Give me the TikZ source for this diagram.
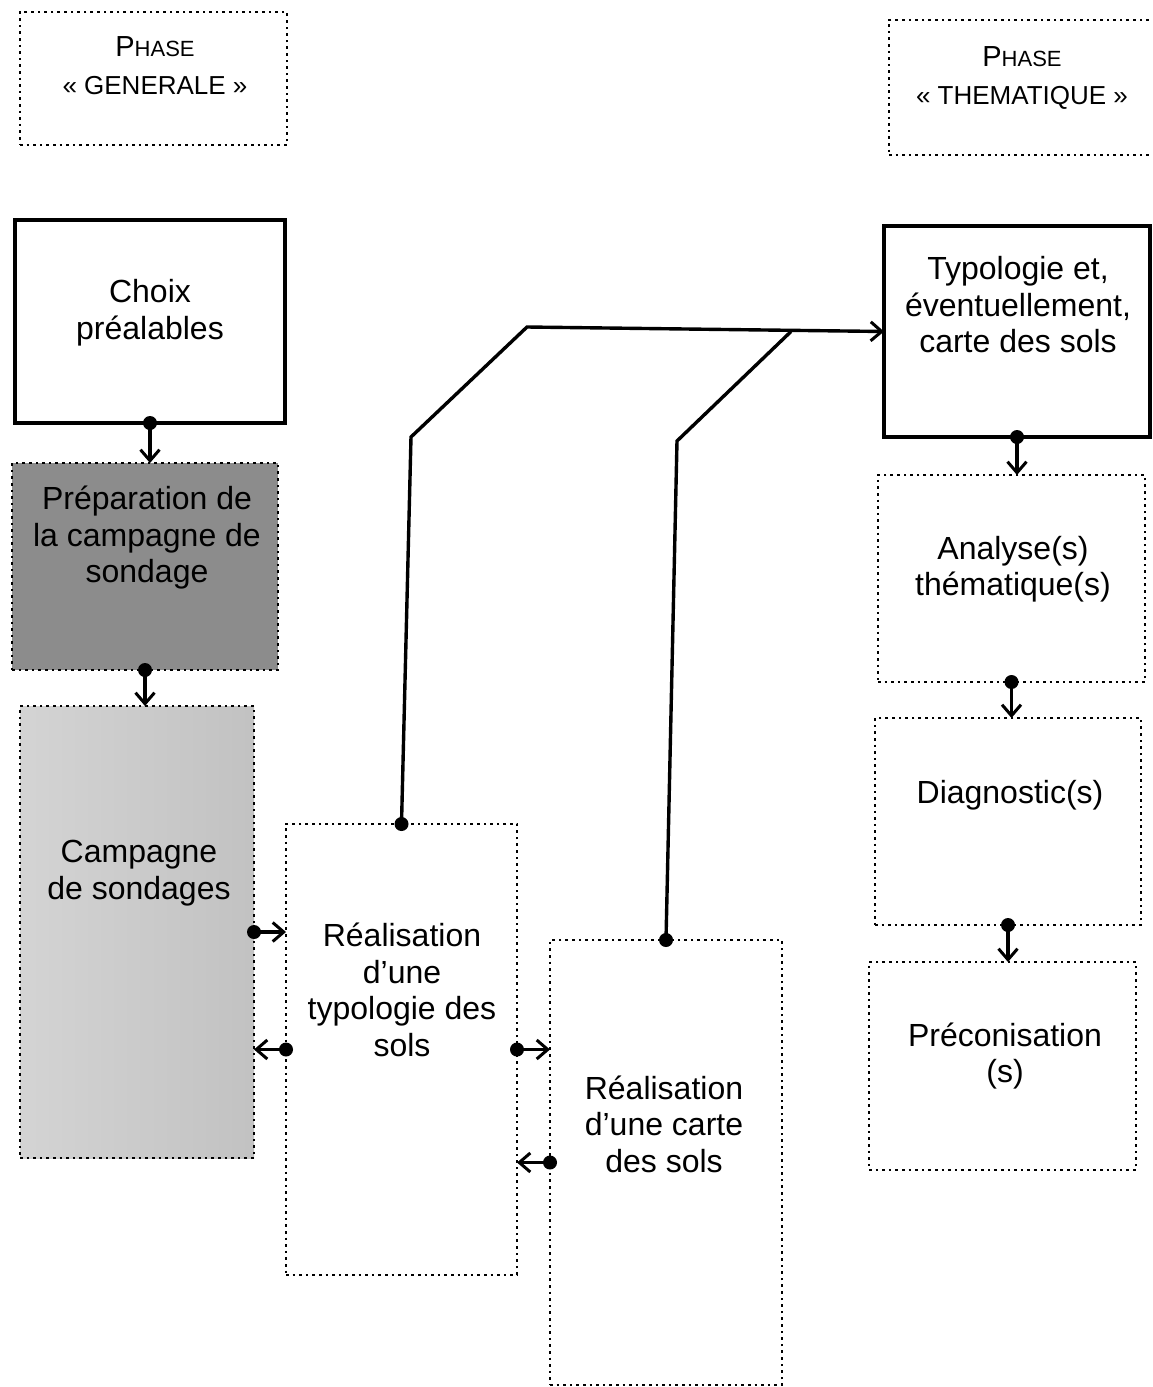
\documentclass[tikz,border=0pt]{standalone}
\usepackage{fontspec}
\setmainfont{Liberation Sans}
\usetikzlibrary{arrows.meta,calc}
\begin{document}
\begin{tikzpicture}[x=1pt,y=-1pt,
  solidbox/.style={draw, line width=3.2pt, rectangle, inner sep=0pt, outer sep=0pt},
  dotbox/.style={draw, line width=2.8pt, dash pattern=on 2.6pt off 4pt, rectangle, inner sep=0pt, outer sep=0pt},
  lbl/.style={font=\fontsize{32}{36.5}\selectfont, align=center, inner sep=0pt},
  phaselbl/.style={font=\fontsize{26}{38}\selectfont, align=center, inner sep=0pt},
  tip/.style={-{Straight Barb[length=11pt,width=19pt,line width=3pt]}},
  conn/.style={line width=3.2pt, tip},
  pathline/.style={line width=3.4pt, line join=miter},
  dotfill/.style={fill=black}]
\useasboundingbox (0,0) rectangle (1152,1387);
\fill[white] (0,0) rectangle (1152,1387);

% boxes
\node[dotbox, minimum width=267pt, minimum height=133pt] (pg) at (153.5,78.5) {};
\node[dotbox, minimum width=267pt, minimum height=135pt] (pt) at (1022.5,87.5) {};
\node[solidbox, minimum width=270pt, minimum height=203pt] (choix) at (150,321.5) {};
\node[dotbox, fill=black!45, minimum width=266pt, minimum height=207pt] (prep) at (145,566.5) {};
\node[dotbox, left color=black!17, right color=black!24, minimum width=234pt, minimum height=452pt] (camp) at (137,932) {};
\node[dotbox, minimum width=231pt, minimum height=451pt] (typ) at (401.5,1049.5) {};
\node[dotbox, minimum width=232pt, minimum height=445pt] (carte) at (666,1162.5) {};
\node[solidbox, minimum width=266pt, minimum height=211pt] (tsols) at (1017,331.5) {};
\node[dotbox, minimum width=267pt, minimum height=207pt] (ana) at (1011.5,578.5) {};
\node[dotbox, minimum width=266pt, minimum height=207pt] (diag) at (1008,821.5) {};
\node[dotbox, minimum width=267pt, minimum height=208pt] (prec) at (1002.5,1066) {};

% texts
\node[phaselbl] (pgt) at (155,66) {{\fontsize{29}{38}\selectfont P}{\fontsize{22}{38}\selectfont HASE}\\« GENERALE »};
\node[phaselbl] (ptt) at (1022,77.5) {{\fontsize{29}{38}\selectfont P}{\fontsize{22}{38}\selectfont HASE}\\« THEMATIQUE »};
\node[lbl] (choixt) at (150,312.5) {Choix\\préalables};
\node[lbl] (prept) at (147,538) {Préparation de\\la campagne de\\sondage};
\node[lbl] (campt) at (139,873) {Campagne\\de sondages};
\node[lbl] (typt) at (402,990) {Réalisation\\d’une\\typologie des\\sols};
\node[lbl] (cartet) at (664,1124) {Réalisation\\d’une carte\\des sols};
\node[lbl] (tsolst) at (1018,305) {Typologie et,\\éventuellement,\\carte des sols};
\node[lbl] (anat) at (1013,569) {Analyse(s)\\thématique(s)};
\node[lbl] (diagt) at (1010,795) {Diagnostic(s)};
\node[lbl] (prect) at (1005,1056) {Préconisation\\(s)};

% vertical connectors
\draw[conn] (choix.south) -- (choix.south |- prep.north);
\fill[dotfill] (choix.south) circle (7pt);
\draw[conn] (prep.south) -- (prep.south |- camp.north);
\fill[dotfill] (prep.south) circle (7pt);
\draw[conn] (tsols.south) -- (tsols.south |- ana.north);
\fill[dotfill] (tsols.south) circle (7pt);
\draw[conn] (ana.south) -- (ana.south |- diag.north);
\fill[dotfill] (ana.south) circle (7pt);
\draw[conn] (diag.south) -- (diag.south |- prec.north);
\fill[dotfill] (diag.south) circle (7pt);

% horizontal connectors
\draw[conn] (camp.east) -- (typ.west |- camp.east);
\fill[dotfill] (camp.east) circle (7pt);
\draw[conn] (typ.west) -- (camp.east |- typ.west);
\fill[dotfill] (typ.west) circle (7pt);
\draw[conn] (typ.east) -- (carte.west |- typ.east);
\fill[dotfill] (typ.east) circle (7pt);
\draw[conn] (carte.west) -- (typ.east |- carte.west);
\fill[dotfill] (carte.west) circle (7pt);

% long connectors to typology box
\coordinate (k1) at (411,437);
\coordinate (k2) at (527,327);
\coordinate (k3) at (677,441);
\coordinate (k4) at (791,331.5);
\draw[pathline, tip] (typ.north) -- (k1) -- (k2) -- (tsols.west);
\draw[pathline] (carte.north) -- (k3) -- (k4);
\fill[dotfill] (typ.north) circle (7pt);
\fill[dotfill] (carte.north) circle (7pt);
\end{tikzpicture}
\end{document}
